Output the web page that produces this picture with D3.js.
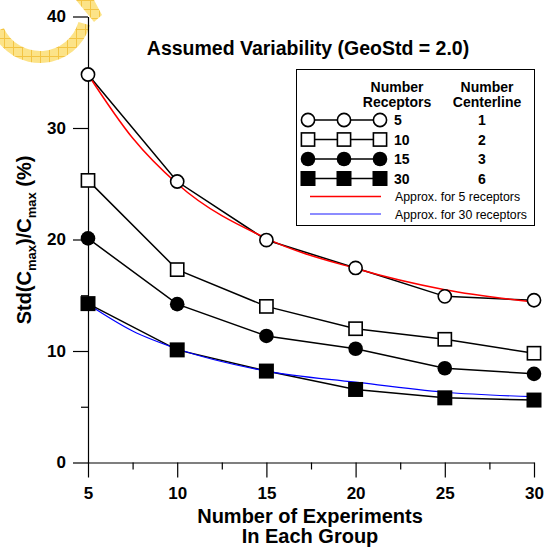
<!DOCTYPE html>
<html>
<head>
<meta charset="utf-8">
<script src="https://cdn.jsdelivr.net/npm/d3@7"></script>
<style>
  body { margin: 0; background: #fff; }
  svg { display: block; font-family: "Liberation Sans", Arial, sans-serif; }
</style>
</head>
<body>
<div id="chart"></div>
<script>
// Données
const experiments = [5, 10, 15, 20, 25, 30];
const receptors5 = [34.8, 25.2, 19.95, 17.45, 14.9, 14.55];
const receptors10 = [25.3, 17.3, 14.0, 12.0, 11.05, 9.8];
const receptors15 = [20.1, 14.2, 11.35, 10.2, 8.45, 7.95];
const receptors30 = [14.25, 10.1, 8.2, 6.55, 5.8, 5.6];

const approxX = [5, 7.5, 10, 15, 20, 25, 30];
const approx5 = [34.8, 29.1, 25.0, 20.1, 17.4, 15.5, 14.4];
const approx30 = [14.2, 11.8, 10.2, 8.2, 7.2, 6.3, 5.9];

const legendReceptors = ["5", "10", "15", "30"];
const legendCenterline = ["1", "2", "3", "6"];
const legendApprox = ["Approx. for 5 receptors", "Approx. for 30 receptors"];

const xTicks = [5, 10, 15, 20, 25, 30];
const xMinorTicks = [7.5, 12.5, 17.5, 22.5, 27.5];
const yTicks = [0, 10, 20, 30, 40];
const yMinorTicks = [5, 15, 25, 35];

const width = 545, height = 548;

const svg = d3.select("#chart").append("svg")
    .attr("width", width).attr("height", height);

// motif jaune en haut à gauche
const defs = svg.append("defs");
const pat = defs.append("pattern")
    .attr("id", "hatch")
    .attr("patternUnits", "userSpaceOnUse")
    .attr("width", 9).attr("height", 9);
pat.append("rect").attr("width", 9).attr("height", 9).attr("fill", "#FCE388");
pat.append("path").attr("d", "M0,0.5H9M0.5,0V9")
    .attr("stroke", "#F3C443").attr("stroke-width", 1);

svg.append("path")
    .attr("transform", "translate(40,11)")
    .attr("d", d3.arc().innerRadius(40).outerRadius(52)
        .startAngle(106 * Math.PI / 180).endAngle(245 * Math.PI / 180)())
    .attr("fill", "url(#hatch)");
svg.append("path")
    .attr("d", "M76,0L94,0L102,15L94,22Z")
    .attr("fill", "url(#hatch)");

const x = d3.scaleLinear().domain([5, 30]).range([88, 534]);
const y = d3.scaleLinear().domain([0, 40]).range([462.5, 16.5]);

// axes
const xAxis = svg.append("g")
    .attr("transform", `translate(0,${y(0)})`)
    .call(d3.axisBottom(x).tickValues(xTicks).tickSize(15).tickSizeOuter(0).tickPadding(9).tickFormat(d3.format("d")));
svg.append("g")
    .attr("transform", `translate(0,${y(0)})`)
    .call(d3.axisBottom(x).tickValues(xMinorTicks).tickSize(7).tickFormat(""))
    .call(g => g.select(".domain").remove());

const yAxis = svg.append("g")
    .attr("transform", `translate(${x(5)},0)`)
    .call(d3.axisLeft(y).tickValues(yTicks).tickSize(15).tickSizeOuter(0).tickPadding(7));
svg.append("g")
    .attr("transform", `translate(${x(5)},0)`)
    .call(d3.axisLeft(y).tickValues(yMinorTicks).tickSize(7).tickFormat(""))
    .call(g => g.select(".domain").remove());

svg.selectAll(".tick line, .domain").attr("stroke", "#000").attr("stroke-width", 1.2);
[xAxis, yAxis].forEach(a => a.selectAll("text")
    .attr("fill", "#000")
    .style("font-size", "17px")
    .style("font-weight", "bold")
    .style("font-family", "Liberation Sans, Arial, sans-serif"));

// titres
svg.append("text")
    .attr("x", 308).attr("y", 55)
    .attr("text-anchor", "middle")
    .style("font-size", "19.5px").style("font-weight", "bold")
    .text("Assumed Variability (GeoStd = 2.0)");

svg.append("text")
    .attr("x", 310).attr("y", 523)
    .attr("text-anchor", "middle")
    .style("font-size", "20px").style("font-weight", "bold")
    .text("Number of Experiments");
svg.append("text")
    .attr("x", 310).attr("y", 543)
    .attr("text-anchor", "middle")
    .style("font-size", "20px").style("font-weight", "bold")
    .text("In Each Group");

const yTitle = svg.append("text")
    .attr("transform", "translate(31,240) rotate(-90)")
    .attr("text-anchor", "middle")
    .style("font-size", "20px").style("font-weight", "bold");
yTitle.append("tspan").text("Std(C");
yTitle.append("tspan").attr("dy", 5).style("font-size", "13px").text("max");
yTitle.append("tspan").attr("dy", -5).text(")/C");
yTitle.append("tspan").attr("dy", 5).style("font-size", "13px").text("max");
yTitle.append("tspan").attr("dy", -5).text(" (%)");

// courbes
const series = [
    { values: receptors5, shape: "circle", filled: false },
    { values: receptors10, shape: "square", filled: false },
    { values: receptors15, shape: "circle", filled: true },
    { values: receptors30, shape: "square", filled: true }
];

const line = d3.line().x(d => x(d[0])).y(d => y(d[1]));
const smooth = d3.line().x(d => x(d[0])).y(d => y(d[1])).curve(d3.curveMonotoneX);

series.forEach(s => {
    svg.append("path")
        .datum(experiments.map((e, i) => [e, s.values[i]]))
        .attr("d", line)
        .attr("fill", "none").attr("stroke", "#000").attr("stroke-width", 1.5);
});

svg.append("path")
    .datum(approxX.map((e, i) => [e, approx5[i]]))
    .attr("d", smooth)
    .attr("fill", "none").attr("stroke", "#FF0000").attr("stroke-width", 1.5);
svg.append("path")
    .datum(approxX.map((e, i) => [e, approx30[i]]))
    .attr("d", smooth)
    .attr("fill", "none").attr("stroke", "#0000FF").attr("stroke-width", 1.2);

// Fonction pour dessiner un marqueur
function drawMarker(g, cx, cy, s) {
    if (s.shape === "circle") {
        g.append("circle")
            .attr("cx", cx).attr("cy", cy)
            .attr("r", s.filled ? 7.3 : 6.6)
            .attr("fill", s.filled ? "#000" : "#fff")
            .attr("stroke", "#000").attr("stroke-width", s.filled ? 0 : 1.6);
    } else {
        const half = s.filled ? 7.5 : 6.6;
        g.append("rect")
            .attr("x", cx - half).attr("y", cy - half)
            .attr("width", half * 2).attr("height", half * 2)
            .attr("fill", s.filled ? "#000" : "#fff")
            .attr("stroke", "#000").attr("stroke-width", s.filled ? 0 : 1.6);
    }
}

const markers = svg.append("g");
series.forEach(s => {
    experiments.forEach((e, i) => drawMarker(markers, x(e), y(s.values[i]), s));
});

// légende
const legend = svg.append("g");
legend.append("rect")
    .attr("x", 296.5).attr("y", 69.5)
    .attr("width", 238).attr("height", 156)
    .attr("fill", "#fff").attr("stroke", "#000").attr("stroke-width", 1);

const headers = [["Number", "Receptors", 397], ["Number", "Centerline", 487]];
headers.forEach(h => {
    legend.append("text").attr("x", h[2]).attr("y", 91.5)
        .attr("text-anchor", "middle")
        .style("font-size", "14px").style("font-weight", "bold").text(h[0]);
    legend.append("text").attr("x", h[2]).attr("y", 107)
        .attr("text-anchor", "middle")
        .style("font-size", "14px").style("font-weight", "bold").text(h[1]);
});

const rowY = [120, 139.5, 159, 178.5];
series.forEach((s, i) => {
    legend.append("line")
        .attr("x1", 308).attr("x2", 380)
        .attr("y1", rowY[i]).attr("y2", rowY[i])
        .attr("stroke", "#000").attr("stroke-width", 1.5);
    [308, 344, 380].forEach(px => drawMarker(legend, px, rowY[i], s));
    legend.append("text").attr("x", 394).attr("y", rowY[i] + 5)
        .style("font-size", "14px").style("font-weight", "bold").text(legendReceptors[i]);
    legend.append("text").attr("x", 482).attr("y", rowY[i] + 5)
        .attr("text-anchor", "middle")
        .style("font-size", "14px").style("font-weight", "bold").text(legendCenterline[i]);
});

const approxColors = ["#FF0000", "#6666FF"];
legendApprox.forEach((t, i) => {
    const ly = 196.5 + i * 17.5;
    legend.append("line")
        .attr("x1", 310).attr("x2", 381)
        .attr("y1", ly).attr("y2", ly)
        .attr("stroke", approxColors[i]).attr("stroke-width", 1.5);
    legend.append("text").attr("x", 395).attr("y", ly + 4.5)
        .style("font-size", "12.3px").text(t);
});
</script>
</body>
</html>
